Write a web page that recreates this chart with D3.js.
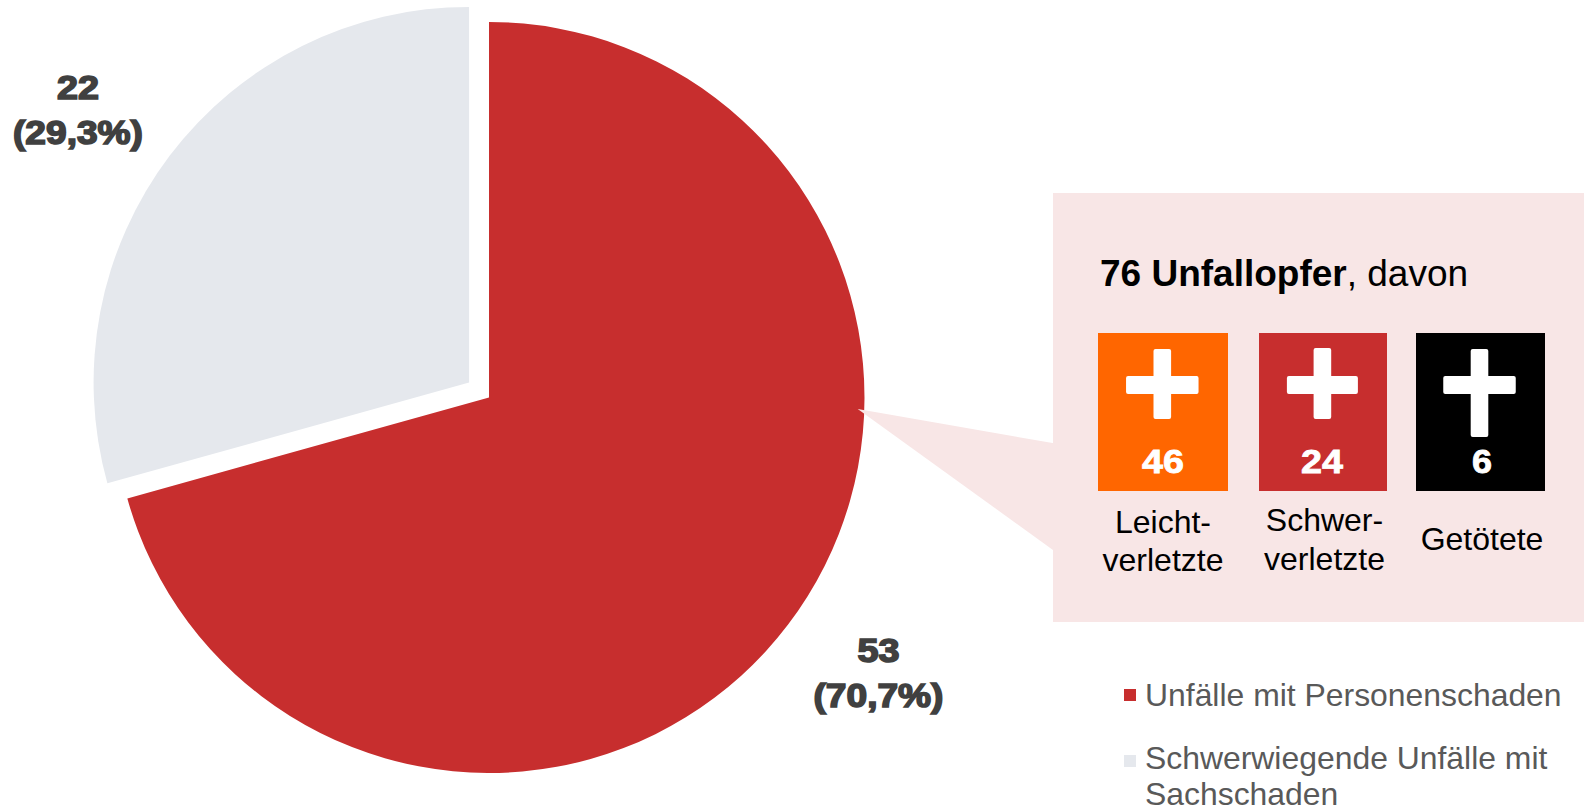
<!DOCTYPE html>
<html lang="de">
<head>
  <meta charset="UTF-8" />
  <title>Unfälle und Unfallopfer</title>
  <script src="https://d3js.org/d3.v7.min.js"></script>
  <style>
    body { margin: 0; background: #fff; font-family: 'Liberation Sans', Arial, sans-serif; }
    svg { display: block; }
  </style>
</head>
<body>
  <svg id="chart" width="1587" height="811"></svg>
  <script>
    // data
    const categories = ["Unfälle mit Personenschaden", "Schwerwiegende Unfälle mit Sachschaden"];
    const accidents = [53, 22];
    const shares = ["(70,7%)", "(29,3%)"];
    const sliceColors = ["#c72e2e", "#e5e8ed"];

    const victimTypes = [["Leicht-", "verletzte"], ["Schwer-", "verletzte"], ["Getötete"]];
    const victims = [46, 24, 6];
    const victimColors = ["#ff6600", "#c72e2e", "#000000"];
    const victimTotal = 76;

    const legendLines = [["Unfälle mit Personenschaden"], ["Schwerwiegende Unfälle mit", "Sachschaden"]];

    const svg = d3.select("#chart");

    // callout panel
    const panel = { x: 1053, y: 193, w: 531, h: 429 };
    svg.append("rect")
      .attr("x", panel.x).attr("y", panel.y)
      .attr("width", panel.w).attr("height", panel.h)
      .attr("fill", "#f8e6e6");

    // pie
    const radius = 375.5;
    const pieCenter = [489, 397.5];
    const explode = 25;
    const pie = d3.pie().sort(null).value(d => d);
    const arc = d3.arc().innerRadius(0).outerRadius(radius);
    const arcs = pie(accidents);

    svg.append("g")
      .attr("transform", `translate(${pieCenter})`)
      .selectAll("path")
      .data(arcs)
      .join("path")
      .attr("fill", (d, i) => sliceColors[i])
      .attr("d", arc)
      .attr("transform", (d, i) => {
        if (i === 0) return null; // only the grey slice is pulled out
        const mid = (d.startAngle + d.endAngle) / 2;
        return `translate(${Math.sin(mid) * explode},${-Math.cos(mid) * explode})`;
      });

    // wedge sits on top of the red slice, the tip bites into it a little
    svg.append("path")
      .attr("d", d3.line()([[857.7, 409], [panel.x + 1, 443.3], [panel.x + 1, 550.7]]))
      .attr("fill", "#f8e6e6");

    // pie labels, the heavy look comes from a stroke and stretched glyphs
    const pieLabels = [
      { x: 878.5, y: [662, 707], i: 0 },
      { x: 78, y: [99, 144], i: 1 }
    ];
    pieLabels.forEach(l => {
      [[String(accidents[l.i]), 42], [shares[l.i], 130]].forEach(([txt, len], k) => {
        svg.append("text")
          .attr("x", l.x).attr("y", l.y[k])
          .attr("text-anchor", "middle")
          .attr("textLength", len).attr("lengthAdjust", "spacingAndGlyphs")
          .attr("font-size", 33).attr("font-weight", "bold")
          .attr("fill", "#404040").attr("stroke", "#404040").attr("stroke-width", 1.6)
          .text(txt);
      });
    });

    // panel title
    const title = svg.append("text")
      .attr("x", 1100).attr("y", 286)
      .attr("font-size", 37).attr("fill", "#000");
    title.append("tspan").attr("font-weight", "bold").text(victimTotal + " Unfallopfer");
    title.append("tspan").text(", davon");

    // icons
    const iconLayout = [
      { x: 1098, w: 130, crossX: 1162.3, barW: 72.5, stemTop: 349, stemBottom: 419, labelX: 1163, labelY: [533, 571], numX: 1163 },
      { x: 1259, w: 128, crossX: 1322.4, barW: 71, stemTop: 348, stemBottom: 419, labelX: 1324.5, labelY: [531, 569.5], numX: 1322 },
      { x: 1416, w: 129, crossX: 1479.5, barW: 72.5, stemTop: 349, stemBottom: 437, labelX: 1482, labelY: [550], numX: 1482 }
    ];
    const iconTop = 333, iconBottom = 491;

    const icons = svg.selectAll("g.icon")
      .data(victims)
      .join("g")
      .attr("class", "icon");

    icons.append("rect")
      .attr("x", (d, i) => iconLayout[i].x).attr("y", iconTop)
      .attr("width", (d, i) => iconLayout[i].w).attr("height", iconBottom - iconTop)
      .attr("fill", (d, i) => victimColors[i]);
    icons.append("rect") // stem
      .attr("x", (d, i) => iconLayout[i].crossX - 8.8).attr("y", (d, i) => iconLayout[i].stemTop)
      .attr("width", 17.6).attr("height", (d, i) => iconLayout[i].stemBottom - iconLayout[i].stemTop)
      .attr("rx", 2).attr("fill", "#fff");
    icons.append("rect") // bar
      .attr("x", (d, i) => iconLayout[i].crossX - iconLayout[i].barW / 2).attr("y", 376)
      .attr("width", (d, i) => iconLayout[i].barW).attr("height", 18)
      .attr("rx", 2).attr("fill", "#fff");
    icons.append("text")
      .attr("x", (d, i) => iconLayout[i].numX).attr("y", 473)
      .attr("text-anchor", "middle")
      .attr("textLength", d => d >= 10 ? 42 : 20).attr("lengthAdjust", "spacingAndGlyphs")
      .attr("font-size", 33).attr("font-weight", "bold")
      .attr("fill", "#fff").attr("stroke", "#fff").attr("stroke-width", 0.8)
      .text(d => d);

    victimTypes.forEach((lines, i) => {
      lines.forEach((line, k) => {
        svg.append("text")
          .attr("x", iconLayout[i].labelX).attr("y", iconLayout[i].labelY[k])
          .attr("text-anchor", "middle")
          .attr("font-size", 32).attr("fill", "#000")
          .text(line);
      });
    });

    // legend
    const legendLayout = [
      { box: 689, base: [706] },
      { box: 755, base: [769, 805] }
    ];
    legendLines.forEach((lines, i) => {
      svg.append("rect")
        .attr("x", 1124).attr("y", legendLayout[i].box)
        .attr("width", 12).attr("height", 12)
        .attr("fill", sliceColors[i]);
      lines.forEach((line, k) => {
        svg.append("text")
          .attr("x", 1145).attr("y", legendLayout[i].base[k])
          .attr("font-size", 31.9).attr("fill", "#595959")
          .text(line);
      });
    });
  </script>
</body>
</html>
